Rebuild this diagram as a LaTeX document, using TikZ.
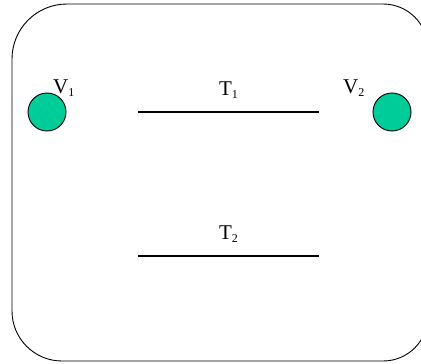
\documentclass[tikz,border=0pt]{standalone}
\usepackage{fontspec}
\setmainfont{Liberation Serif}
\usepackage{tikz}
\usetikzlibrary{positioning}
\definecolor{VertGreen}{RGB}{0,204,153}
\newcommand{\idx}[1]{\raisebox{-3pt}{\fontsize{12}{12}\selectfont #1}}

\begin{document}
\begin{tikzpicture}[
  x=1pt,y=-1pt,
  font=\fontsize{21}{24}\selectfont,
  vertex/.style={circle,draw,fill=VertGreen,line width=0.9pt,
    minimum size=38pt,inner sep=0pt},
  vlabel/.style={anchor=base west,inner sep=0pt},
  track/.style={line width=1.2pt},
  tlabel/.style={midway,anchor=base,yshift=17pt,inner sep=0pt}
]
  \clip (0,0) rectangle (421,364);
  % outer frame
  \draw[line width=0.9pt]
    (67,4) -- (383,4)
    .. controls (407.9,4) and (428,24.1) .. (428,49)
    -- (428,316)
    .. controls (428,340.9) and (407.9,361) .. (383,361)
    -- (62,361)
    .. controls (34.4,361) and (12,338.6) .. (12,311)
    -- (12,59)
    .. controls (12,28.6) and (36.6,4) .. (67,4) -- cycle;
  % vertices
  \node[vertex] (v1) at (47,112) {};
  \node[vertex] (v2) at (392,112) {};
  \node[vlabel] (v1lab) at (53,93) {V\idx{1}};
  \node[vlabel] (v2lab) at (343,93) {V\idx{2}};
  % tracks
  \coordinate (t1a) at (138,112);
  \coordinate (t1b) at (319,112);
  \coordinate (t2a) at (138,256);
  \coordinate (t2b) at (319,256);
  \draw[track] (t1a) -- node[tlabel] (t1lab) {T\idx{1}} (t1b);
  \draw[track] (t2a) -- node[tlabel] (t2lab) {T\idx{2}} (t2b);
\end{tikzpicture}
\end{document}
